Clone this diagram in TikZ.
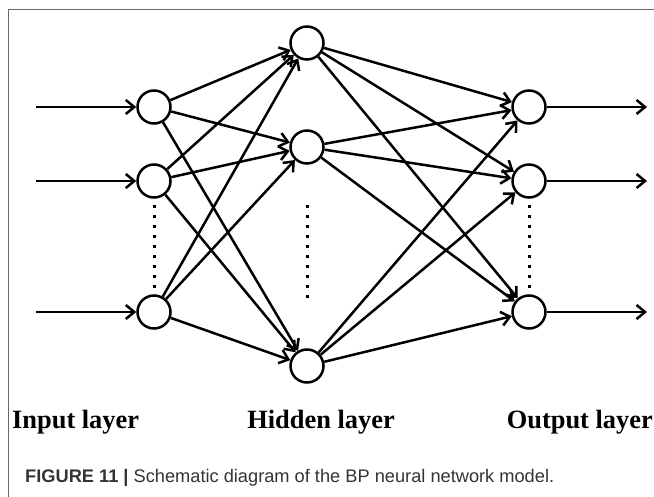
\documentclass[tikz,border=0pt]{standalone}
\usepackage{fontspec}
\setmainfont{Liberation Serif}
\newfontfamily\capfont{Liberation Sans}
\usetikzlibrary{arrows.meta}

\begin{document}
\begin{tikzpicture}[x=1bp, y=-1bp,
            neuron/.style={draw, circle, line width=2.5bp, minimum size=33bp, inner sep=0pt},
            link/.style={line width=2.5bp, -{Straight Barb[length=8.5bp,width=14bp]}},
            dots/.style={line width=3bp, dash pattern=on 3bp off 7bp},
            layername/.style={font=\fontsize{26.5}{30}\selectfont\bfseries, inner sep=0pt}]
        \useasboundingbox (0,0) rectangle (654,497);
        % frame
        \draw[gray!80!black, line width=0.8bp] (654,9) -- (8,9) -- (8,497);
        % neurons
        \node[neuron] (i1) at (154,107) {};
        \node[neuron] (i2) at (154,181) {};
        \node[neuron] (i3) at (154,312) {};
        \node[neuron] (h1) at (307,43) {};
        \node[neuron] (h2) at (307,147) {};
        \node[neuron] (h3) at (307,366) {};
        \node[neuron] (o1) at (529,107) {};
        \node[neuron] (o2) at (529,181) {};
        \node[neuron] (o3) at (529,312) {};
        % free ends
        \foreach \k/\y in {1/107, 2/181, 3/312} {
            \coordinate (in\k) at (36,\y);
            \coordinate (out\k) at (647,\y);
            \draw[link] (in\k) -- (i\k);
            \draw[link] (o\k) -- (out\k);
        }
        % weights
        \foreach \a in {1,2,3}
            \foreach \b in {1,2,3} {
                \draw[link] (i\a) -- (h\b);
                \draw[link] (h\a) -- (o\b);
            }
        % dots
        \draw[dots] (154,205) -- (154,291);
        \draw[dots] (307,205) -- (307,301);
        \draw[dots] (529,205) -- (529,291);
        % labels
        \node[layername, anchor=base west] (lin) at (12,428) {Input layer};
        \node[layername, anchor=base] (lhid) at (321,428) {Hidden layer};
        \node[layername, anchor=base east] (lout) at (653,428) {Output layer};
        \node[anchor=base west, inner sep=0pt, text=black!80, font=\capfont\fontsize{18.3}{22}\selectfont] (cap) at (25,482)
            {\textbf{FIGURE 11 |} Schematic diagram of the BP neural network model.};
\end{tikzpicture}
\end{document}
